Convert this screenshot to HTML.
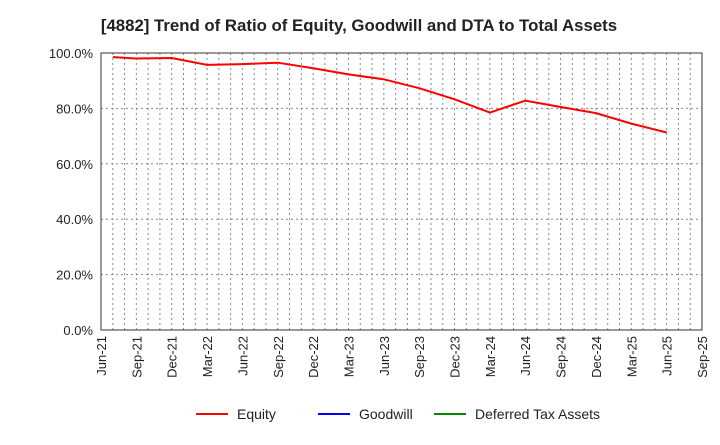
<!DOCTYPE html>
<html><head><meta charset="utf-8"><style>
body{margin:0;background:#fff;font-family:"Liberation Sans",sans-serif}
svg text{font-family:"Liberation Sans",sans-serif}
</style></head><body>
<svg width="720" height="440" xmlns="http://www.w3.org/2000/svg" id="chart">
<text x="359" y="31" text-anchor="middle" font-size="16.8" font-weight="bold" fill="#222">[4882]  Trend of Ratio of Equity, Goodwill and DTA to Total Assets</text>
<g id="grid"></g><g id="axes"></g><g id="series"></g>
<g>
<line x1="196" y1="414" x2="228" y2="414" stroke="#f00" stroke-width="2"/><text x="237" y="419" font-size="14" fill="#222">Equity</text>
<line x1="318" y1="414" x2="350" y2="414" stroke="#00f" stroke-width="2"/><text x="349" y="419" font-size="14" fill="#222" dx="10">Goodwill</text>
<line x1="434" y1="414" x2="466" y2="414" stroke="#080" stroke-width="2"/><text x="475" y="419" font-size="14" fill="#222">Deferred Tax Assets</text>
</g>
</svg>
<script>
const tickLabels=["Jun-21","Sep-21","Dec-21","Mar-22","Jun-22","Sep-22","Dec-22","Mar-23","Jun-23","Sep-23","Dec-23","Mar-24","Jun-24","Sep-24","Dec-24","Mar-25","Jun-25","Sep-25"];
const yTicks=[0,20,40,60,80,100];
const equityMonths=[1,3,6,9,12,15,18,21,24,27,30,33,36,39,42,45,48];
const equityValues=[98.5,98.0,98.2,95.7,96.0,96.5,94.5,92.3,90.5,87.3,83.3,78.5,82.8,80.5,78.3,74.5,71.3];
const L=101,R=702,T=53,B=330,NM=51;
const x=m=>L+(R-L)*m/NM, y=v=>B-(B-T)*v/100;
const NS="http://www.w3.org/2000/svg";
function mk(p,t,a){const e=document.createElementNS(NS,t);for(const k in a)e.setAttribute(k,a[k]);p.appendChild(e);return e;}
const g=document.getElementById('grid'),ax=document.getElementById('axes'),s=document.getElementById('series');
for(let m=1;m<NM;m++){const l=mk(g,'line',{x1:x(m),x2:x(m),y1:T,y2:B,stroke:'#888','stroke-dasharray':'2,3','stroke-width':1});

}
yTicks.forEach(v=>{if(v>0&&v<100){const l=mk(g,'line',{x1:L,x2:R,y1:y(v),y2:y(v),stroke:'#888','stroke-dasharray':'2,3'});

}
const t=mk(ax,'text',{x:L-8,y:y(v)+5,'text-anchor':'end','font-size':13,fill:'#222'});t.textContent=v.toFixed(1)+'%';

});
const fr=mk(ax,'rect',{x:L,y:T,width:R-L,height:B-T,fill:'none',stroke:'#333','stroke-width':1});


tickLabels.forEach((lab,i)=>{const xx=x(i*3);const t=mk(ax,'text',{transform:`translate(${xx+5},${B+6}) rotate(-90)`,'text-anchor':'end','font-size':13,fill:'#222'});t.textContent=lab;

});
const p=mk(s,'polyline',{points:equityMonths.map((m,i)=>x(m)+','+y(equityValues[i])).join(' '),fill:'none',stroke:'#f00','stroke-width':2});


</script>
</body></html>
